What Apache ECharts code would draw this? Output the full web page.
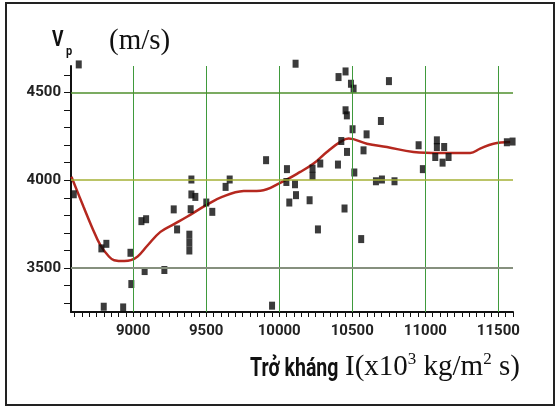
<!DOCTYPE html>
<html><head><meta charset="utf-8">
<script src="https://cdn.jsdelivr.net/npm/echarts@6/dist/echarts.min.js"></script>
<style>html,body{margin:0;padding:0;background:#fff}#c{width:558px;height:412px}</style>
</head><body><div id="c"></div>
<script>
// measured points (impedance, Vp)
const pointX = [8628,8594,8783,8817,8982,8988,8799,8932,9057,9089,9079,9214,9278,9301,9385,9385,9385,9399,9426,9394,9399,9501,9542,9633,9661,9910,9951,10053,10049,10108,10069,10115,10208,10228,10228,10281,10265,10402,10425,10447,10464,10514,10561,10577,10598,10662,10703,10789,10954,10983,11079,11079,11068,11118,11129,11159,11558,11597,10112,10406,10454,10491,10509,10454,10463,10502,10696,10751];
const pointY = [4659,3920,3612,3638,3587,3409,3280,3276,3767,3778,3483,3489,3834,3720,3690,3645,3600,3919,3905,3835,4004,3873,3820,3962,4004,4114,3286,4063,3990,3977,3873,3915,3886,4066,4025,4095,3720,4089,4223,3839,4161,4044,3665,4170,4261,3994,4004,3994,4199,4063,4227,4189,4132,4100,4189,4132,4216,4220,4663,4587,4619,4549,4521,4398,4369,4290,4337,4564];
// smoothed trend curve
const curveX = [8578,8660,8720,8776,8830,8870,8940,8985,9030,9100,9187,9280,9369,9500,9609,9757,9871,10007,10144,10235,10326,10418,10475,10600,10737,10919,11102,11307,11375,11466,11581];
const curveY = [4020,3850,3730,3630,3570,3545,3540,3545,3565,3630,3706,3750,3792,3858,3905,3938,3940,3985,4047,4095,4161,4218,4237,4208,4189,4161,4155,4155,4180,4208,4218];
const xLabelValues = [9000,9500,10000,10500,11000,11500];
const yLabelValues = [3500,4000,4500];
const xTickValues = [8600,8650,8700,8750,8800,8850,8900,8950,9000,9050,9100,9150,9200,9250,9300,9350,9400,9450,9500,9550,9600,9650,9700,9750,9800,9850,9900,9950,10000,10050,10100,10150,10200,10250,10300,10350,10400,10450,10500,10550,10600,10650,10700,10750,10800,10850,10900,10950,11000,11050,11100,11150,11200,11250,11300,11350,11400,11450,11500,11550,11600];
const yTickValues = [3300,3400,3500,3600,3700,3800,3900,4000,4100,4200,4300,4400,4500,4600];

const sans = 'Roboto';
const serif = 'Liberation Serif';
const hColors = {3500:'#86907e', 4000:'#a4b034', 4500:'#4f8f2c'};
const hWidths = {3500:2, 4000:1.5, 4500:1.5};

const chart = echarts.init(document.getElementById('c'));
chart.setOption({
  animation: false,
  backgroundColor: '#fff',
  grid: {left: 71, right: 45, top: 66, bottom: 100},
  xAxis: {
    type: 'value', min: 8575, max: 11600,
    axisLine: {show: true, onZero: false, lineStyle: {color: '#111', width: 2}},
    axisTick: {show: true, inside: false, length: 5, customValues: xTickValues, lineStyle: {color: '#111', width: 1}},
    axisLabel: {customValues: xLabelValues, formatter: v => String(v), margin: 12, color: '#222', fontWeight: 'bold', fontSize: 15, fontFamily: sans},
    splitLine: {show: false}
  },
  yAxis: {
    type: 'value', min: 3250, max: 4650,
    axisLine: {show: true, onZero: false, lineStyle: {color: '#111', width: 2}},
    axisTick: {show: true, inside: false, length: 7, customValues: yTickValues, lineStyle: {color: '#111', width: 1}},
    axisLabel: {customValues: yLabelValues, formatter: v => String(v), margin: 10, color: '#222', fontWeight: 'bold', fontSize: 15, fontFamily: sans},
    splitLine: {show: false}
  },
  series: [
    {
      type: 'scatter', data: [], z: 1, silent: true,
      markLine: {
        silent: true, symbol: ['none','none'], label: {show: false}, animation: false,
        data: xLabelValues.map(v => ({xAxis: v, lineStyle: {color: '#3f9a3c', width: 1, type: 'solid'}}))
          .concat(yLabelValues.map(v => ({yAxis: v, lineStyle: {color: hColors[v], width: hWidths[v], type: 'solid'}})))
      }
    },
    {
      type: 'line', z: 2, smooth: 0.4, showSymbol: false, silent: true,
      data: curveX.map((x, i) => [x, curveY[i]]),
      lineStyle: {color: '#b5281f', width: 2.5}
    },
    {
      type: 'scatter', z: 3, silent: true, clip: false,
      symbol: 'rect', symbolSize: [6, 8],
      itemStyle: {color: '#0a0a0a'},
      data: pointX.map((x, i) => [x, pointY[i]])
    }
  ],
  graphic: [
    {type: 'rect', shape: {x: 6, y: 3, width: 548, height: 402}, style: {fill: 'none', stroke: '#222', lineWidth: 2}, z: 100},
    {type: 'text', x: 52, y: 29, scaleX: 0.8, style: {text: 'V', fontSize: 22, fontWeight: 'bold', fontFamily: sans, fill: '#111'}},
    {type: 'text', x: 66, y: 45, scaleX: 0.85, style: {text: 'p', fontSize: 13, fontWeight: 'bold', fontFamily: sans, fill: '#111'}},
    {type: 'text', x: 109, y: 27, style: {text: '(m/s)', fontSize: 29, fontFamily: serif, fill: '#111'}},
    {type: 'text', x: 250, y: 356, scaleX: 0.75, style: {text: 'Trở kháng', fontSize: 26, fontWeight: 'bold', fontFamily: sans, fill: '#111'}},
    {type: 'text', x: 345, y: 351, style: {
      text: '{n|I(x10}{s|3}{n| kg/m}{s|2}{n| s)}',
      rich: {
        n: {fontSize: 29, fontFamily: serif, fill: '#111', lineHeight: 32},
        s: {fontSize: 17, fontFamily: serif, fill: '#111', verticalAlign: 'top', lineHeight: 32, padding: [0, 0, 12, 0]}
      }
    }}
  ]
});
</script>
</body></html>
